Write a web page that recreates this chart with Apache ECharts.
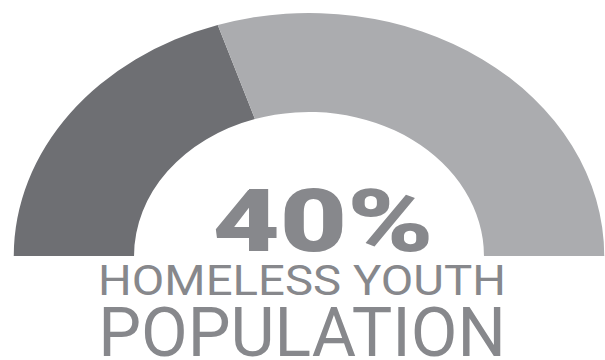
<!DOCTYPE html>
<html>
<head>
<meta charset="utf-8">
<script src="https://cdn.jsdelivr.net/npm/echarts@6/dist/echarts.min.js"></script>
<style>
html,body{margin:0;padding:0;background:#fff;overflow:hidden;}
#wrap{width:605px;height:360px;position:relative;overflow:hidden;}
#chart{position:absolute;left:0;top:0;width:498px;height:360px;transform:scaleX(1.215);transform-origin:0 0;}
</style>
</head>
<body>
<div id="wrap"><div id="chart"></div></div>
<script>
const categories = ['Homeless youth', 'Other'];
const values = [40, 60];
const colors = ['#6e6f73', '#abacaf'];
const caption1 = 'HOMELESS YOUTH';
const caption2 = 'POPULATION';

const S = 1.215;
const total = values.reduce((a, b) => a + b, 0);
const data = categories.map((c, i) => ({ name: c, value: values[i], itemStyle: { color: colors[i] } }));
data.push({ name: '', value: total, itemStyle: { color: 'none' }, label: { show: false }, emphasis: { disabled: true } });

const chart = echarts.init(document.getElementById('chart'), null, { renderer: 'svg' });
const textColor = '#87888c';
chart.setOption({
  animation: false,
  series: [{
    type: 'pie',
    center: [309 / S, 256],
    radius: [144, 243],
    startAngle: 180,
    clockwise: true,
    silent: true,
    label: { show: false },
    labelLine: { show: false },
    itemStyle: { borderWidth: 0 },
    data: data
  }],
  graphic: [
    { type: 'text', x: 323 / S, y: 221, scaleX: 1.10,
      style: { x: 0, y: 0, text: values[0] + '%', fill: textColor, font: '900 87px Roboto', lineHeight: 70, textAlign: 'center', textVerticalAlign: 'middle' } },
    { type: 'text', x: 302 / S, y: 280, scaleX: 0.928,
      style: { x: 0, y: 0, text: caption1, fill: textColor, font: '400 42px Roboto', lineHeight: 36, textAlign: 'center', textVerticalAlign: 'middle' } },
    { type: 'text', x: 302 / S, y: 332, scaleX: 0.81,
      style: { x: 0, y: 0, text: caption2, fill: textColor, font: '400 69px Roboto', lineHeight: 52, textAlign: 'center', textVerticalAlign: 'middle' } }
  ]
});
</script>
</body>
</html>
